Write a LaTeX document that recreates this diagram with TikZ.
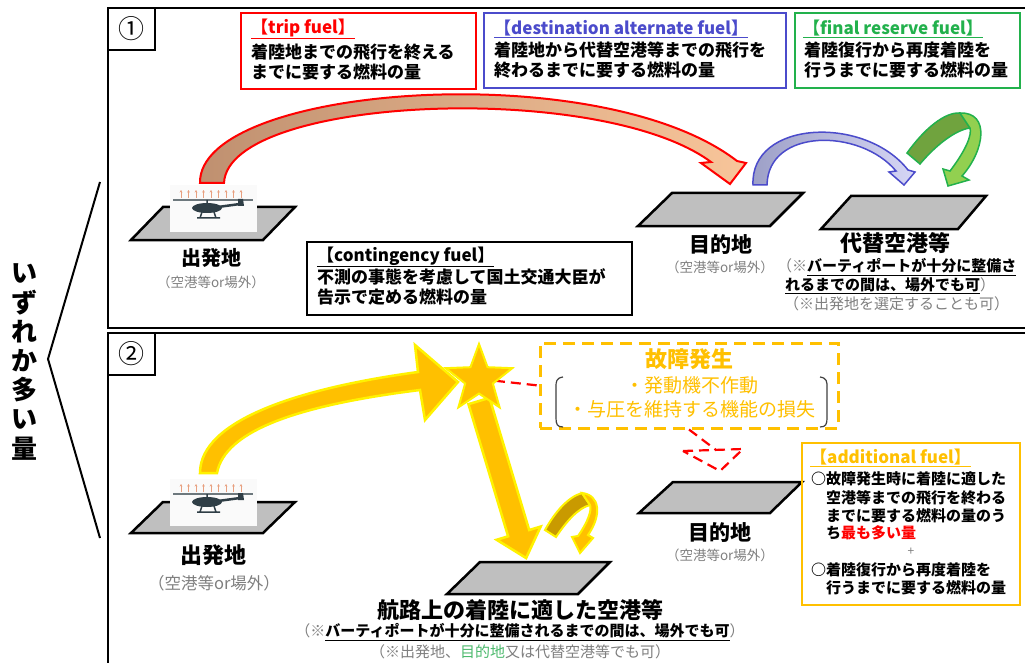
\documentclass[tikz,border=0pt]{standalone}
\usepackage{fontspec}
\setmainfont{Noto Sans CJK JP}
\usetikzlibrary{shapes.geometric,arrows.meta}
\pgfdeclarelayer{behind}
\pgfsetlayers{behind,main}
\definecolor{tripred}{HTML}{FF0000}
\definecolor{tripdark}{HTML}{BF9070}
\definecolor{triplight}{HTML}{F8C59A}
\definecolor{altblue}{HTML}{4B4BCB}
\definecolor{bluedark}{HTML}{9C9FC6}
\definecolor{bluelight}{HTML}{D6D6F5}
\definecolor{resgreen}{HTML}{22B14C}
\definecolor{greendark}{HTML}{70A33E}
\definecolor{greenlight}{HTML}{92D050}
\definecolor{fuelorange}{HTML}{FFC000}
\definecolor{golddark}{HTML}{C99A00}
\definecolor{notegray}{HTML}{7F7F7F}
\definecolor{padgray}{HTML}{BFBFBF}
\definecolor{okgreen}{HTML}{4DBA6E}
\definecolor{evtoldark}{HTML}{2F3E46}
\definecolor{arroworange}{HTML}{E8A080}
\tikzset{
  panel/.style={draw=black, line width=2pt},
  numbox/.style={draw=black, line width=1.5pt, minimum width=47pt, minimum height=42pt, inner sep=0pt, font=\fontsize{26}{28}\selectfont},
  fuelbox/.style={line width=1.8pt, inner sep=0pt},
  boxline/.style={anchor=west, inner sep=0pt, font=\fontsize{17}{20}\selectfont\bfseries},
  addline/.style={anchor=west, inner sep=0pt, font=\fontsize{15}{18}\selectfont\bfseries},
  padlabel/.style={inner sep=0pt, font=\fontsize{21}{24}\selectfont\bfseries},
  padnote/.style={inner sep=0pt, text=notegray, font=\fontsize{13.5}{16}\selectfont},
  notebold/.style={inner sep=0pt, font=\fontsize{15}{18}\selectfont\bfseries},
  vtext/.style={inner sep=0pt, align=center, font=\fontsize{26}{29.2}\selectfont\bfseries},
  pad/.style={fill=padgray, draw=black, line width=2.5pt, line join=miter},
  tripfat/.style={draw=tripred, line width=2pt, left color=tripdark, right color=triplight},
  bluefat/.style={draw=altblue, line width=1.5pt, left color=bluedark, right color=bluelight},
  yelfat/.style={draw=yellow, line width=2.5pt, fill=fuelorange, line join=miter},
  faillink/.style={draw=red, line width=2.2pt, dash pattern=on 10pt off 6pt},
  faildash/.style={draw=fuelorange, line width=3pt, dash pattern=on 12pt off 7pt},
  brk/.style={draw=black!75, line width=1.2pt},
  evtol/.pic={
    \fill[gray!4] (0,0) rectangle (87,47);
    \foreach \i in {0,...,8}
      \draw[arroworange, line width=0.7pt, -{Stealth[length=2.5pt,width=2.5pt]}] (11+7.5*\i,13) -- (11+7.5*\i,5);
    \draw[evtoldark!70, line width=1.2pt] (3,15) -- (83,15);
    \fill[evtoldark] (37,23) ellipse (15 and 5);
    \draw[evtoldark, line width=2.5pt] (48,22) -- (70,19);
    \fill[evtoldark] (68,14) -- (73,14) -- (74,21) -- (68,21) -- cycle;
    \draw[evtoldark, line width=1.5pt] (37,15) -- (37,19) (32,27) -- (30,33) (44,27) -- (46,33) (27,33) -- (50,33);
  }
}
\begin{document}
\begin{tikzpicture}[x=1pt, y=-1pt]
\useasboundingbox (0,0) rectangle (1025,663);
\begin{pgfonlayer}{behind}
\fill[white] (0,0) rectangle (1025,663);
\end{pgfonlayer}
% panels
\draw[panel] (108,8) rectangle (1040,328);
\draw[panel] (108,333) rectangle (1040,680);
\node[numbox] (no1) at (131.5,29) {①};
\node[numbox] (no2) at (131.5,354) {②};
% left bracket
\draw[line width=2pt] (100,182) -- (48,359) -- (100,538);
\node[vtext] (either) at (25,362) {い\\ず\\れ\\か\\多\\い\\量};

% panel 1: fuel boxes
\node[fuelbox, draw=tripred, minimum width=235pt, minimum height=76pt] (tripbox) at (358.5,51) {};
\node[boxline, text=tripred] (triphead) at (251,29) {\underline{【trip fuel】}};
\node[boxline] (trip1) at (251,52) {着陸地までの飛行を終える};
\node[boxline] (trip2) at (251,72) {までに要する燃料の量};
\node[fuelbox, draw=altblue, minimum width=302pt, minimum height=75pt] (altbox) at (635,50.5) {};
\node[boxline, text=altblue] (althead) at (494,29) {\underline{【destination alternate fuel】}};
\node[boxline] (alt1) at (494,50) {着陸地から代替空港等までの飛行を};
\node[boxline] (alt2) at (494,70) {終わるまでに要する燃料の量};
\node[fuelbox, draw=resgreen, minimum width=225pt, minimum height=75pt] (resbox) at (907.5,50.5) {};
\node[boxline, text=resgreen] (reshead) at (803,29) {\underline{【final reserve fuel】}};
\node[boxline] (res1) at (804,50) {着陸復行から再度着陸を};
\node[boxline] (res2) at (804,70) {行うまでに要する燃料の量};
\node[fuelbox, draw=black, minimum width=325pt, minimum height=73pt] (contbox) at (469.5,278.5) {};
\node[boxline] (conthead) at (317,257) {\underline{【contingency fuel】}};
\node[boxline] (cont1) at (317,277) {不測の事態を考慮して国土交通大臣が};
\node[boxline] (cont2) at (317,297) {告示で定める燃料の量};

% panel 1: pads
\draw[pad] (163,207) -- (295,207) -- (263,240) -- (131,240) -- cycle;
\pic at (170,185) {evtol};
\draw[pad] (672,193) -- (803,193) -- (770,226) -- (638,226) -- cycle;
\draw[pad] (851,196) -- (986,196) -- (958,229) -- (821,229) -- cycle;
\node[padlabel, font=\fontsize{20}{24}\selectfont\bfseries] (dep1) at (211,258) {出発地};
\node[padnote] (dep1note) at (211,282) {（空港等or場外）};
\node[padlabel] (dst1) at (721,245) {目的地};
\node[padnote] (dst1note) at (720,267) {（空港等or場外）};
\node[padlabel, font=\fontsize{22}{24}\selectfont\bfseries] (alt) at (895,243) {代替空港等};
\node[notebold, anchor=west] (altnote1) at (777,267) {{\mdseries\color{notegray}（※}\underline{バーティポートが十分に整備さ}};
\node[notebold, anchor=west] (altnote2) at (785,286) {\underline{れるまでの間は、場外でも可}{\mdseries\color{notegray}）}};
\node[padnote, anchor=west, font=\fontsize{15}{18}\selectfont] (altnote3) at (784,304) {（※出発地を選定することも可）};

% panel 1: arrows
\path[tripfat] (200,183) .. controls (198,85) and (600,55) .. (737,161) -- (746,163) -- (730,184) -- (701,163) -- (711,162) .. controls (600,80) and (228,96) .. (224,183) -- cycle;
\path[bluefat] (753,185) .. controls (750,120) and (865,115) .. (908,170) -- (915,172) -- (904,185) -- (889,172) -- (896,171) .. controls (860,128) and (768,128) .. (767,185) -- cycle;
\path[draw=resgreen, line width=1.5pt, fill=greendark] (907,153) .. controls (925,128) and (945,112) .. (960,113) -- (970,128) .. controls (955,130) and (935,146) .. (920,164) -- cycle;
\path[draw=resgreen, line width=1.5pt, fill=greenlight] (960,113) .. controls (990,112) and (985,150) .. (962,176) -- (969,180) -- (948,186) -- (943,169) -- (950,171) .. controls (966,150) and (972,135) .. (970,128) -- cycle;

% panel 2: pads
\draw[pad] (163,502) -- (295,502) -- (263,533) -- (131,533) -- cycle;
\pic at (170,479) {evtol};
\draw[pad] (673,482) -- (802,482) -- (770,513) -- (639,513) -- cycle;
\draw[pad] (480,562) -- (610,562) -- (578,594) -- (447,594) -- cycle;
\node[padlabel, font=\fontsize{22}{24}\selectfont\bfseries] (dep2) at (213,555) {出発地};
\node[padnote, font=\fontsize{16.5}{18}\selectfont] (dep2note) at (214,583) {（空港等or場外）};
\node[padlabel] (dst2) at (720,533) {目的地};
\node[padnote] (dst2note) at (720,555) {（空港等or場外）};
\node[padlabel, font=\fontsize{22}{24}\selectfont\bfseries] (route) at (520,610) {航路上の着陸に適した空港等};
\node[notebold] (routenote1) at (520,632) {{\mdseries\color{notegray}（※}\underline{バーティポートが十分に整備されるまでの間は、場外でも可}{\mdseries\color{notegray}）}};
\node[padnote, font=\fontsize{15}{18}\selectfont] (routenote2) at (520,652) {（※出発地、{\color{okgreen}目的地}又は代替空港等でも可）};

% panel 2: failure box
\node[faildash, minimum width=298pt, minimum height=85pt, inner sep=0pt] (failbox) at (689,385.5) {};
\node[inner sep=0pt, text=fuelorange, font=\fontsize{22}{24}\selectfont\bfseries] (failhead) at (689,359) {故障発生};
\node[inner sep=0pt, text=fuelorange, font=\fontsize{19}{22}\selectfont] (fail1) at (692,385) {・発動機不作動};
\node[inner sep=0pt, text=fuelorange, font=\fontsize{19}{22}\selectfont] (fail2) at (692,409) {・与圧を維持する機能の損失};
\draw[brk] (563,377) .. controls (556,378) and (556,382) .. (556,387) -- (556,418) .. controls (556,424) and (557,427) .. (563,427);
\draw[brk] (820,377) .. controls (827,378) and (827,382) .. (827,387) -- (827,418) .. controls (827,424) and (826,427) .. (820,427);
\coordinate (dropin) at (716,450);
\draw[faillink] (failbox.south) -- (dropin);
\draw[faillink] (683,451) -- (743,449) -- (720,471) -- cycle;

% panel 2: additional fuel box
\node[fuelbox, draw=fuelorange, minimum width=218pt, minimum height=162pt] (addbox) at (911,524) {};
\node[boxline, text=fuelorange] (addhead) at (810,458) {\underline{【additional fuel】}};
\node[addline] (add1) at (811,479) {○故障発生時に着陸に適した};
\node[addline] (add2) at (826,498) {空港等までの飛行を終わる};
\node[addline] (add3) at (826,516) {までに要する燃料の量のう};
\node[addline] (add4) at (826,533) {ち{\color{red}最も多い量}};
\node[inner sep=0pt, text=notegray, font=\fontsize{12}{14}\selectfont] (addplus) at (911,552) {+};
\node[addline] (add5) at (811,570) {○着陸復行から再度着陸を};
\node[addline] (add6) at (826,588) {行うまでに要する燃料の量};

% panel 2: arrows
\path[yelfat] (200,473) .. controls (200,420) and (300,388) .. (418,372) -- (415,345) -- (458,382) -- (425,420) -- (420,390) .. controls (300,405) and (225,430) .. (217,473) -- cycle;
\begin{scope}[shift={(479,401)}, rotate=-73.3]
  \path[yelfat] (0,11) -- (138,11) -- (138,23) -- (164,0) -- (138,-23) -- (138,-11) -- (0,-11) -- cycle;
\end{scope}
\node[star, star points=5, star point ratio=2.4, minimum size=70pt, inner sep=0pt, fill=fuelorange, draw=yellow, line width=2pt] (fail) at (479,379) {};
\begin{pgfonlayer}{behind}
\draw[faillink] (fail.center) -- (failbox.west);
\end{pgfonlayer}
\path[draw=yellow, line width=2pt, fill=golddark] (545,530) .. controls (555,512) and (568,497) .. (582,493) -- (590,505) .. controls (578,508) and (566,522) .. (556,537) -- cycle;
\path[yelfat, line width=2pt] (582,493) .. controls (600,495) and (602,515) .. (588,535) -- (593,538) -- (580,553) -- (572,537) -- (578,536) .. controls (588,522) and (592,510) .. (590,505) -- cycle;
\end{tikzpicture}
\end{document}
